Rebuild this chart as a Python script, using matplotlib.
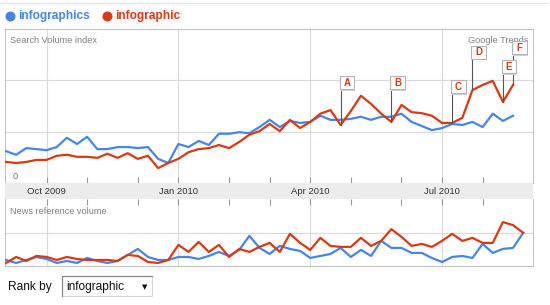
"""
Google Trends style comparison of "infographics" vs "infographic",
weekly from Sep 2009 to Aug 2010.

Top panel: search volume index with news markers A-F on the red line.
Bottom panel: news reference volume.  Writes out.png (550x305).
"""

from __future__ import annotations

from datetime import date

import numpy as np
import matplotlib
matplotlib.use("Agg")
import matplotlib.pyplot as plt
import matplotlib.transforms as mtransforms
from matplotlib.lines import Line2D
from matplotlib.patches import Rectangle

plt.rcParams["font.family"] = ["Liberation Sans", "DejaVu Sans"]

# first weekly bucket
FIRST_WEEK = date(2009, 9, 3)

terms = ["infographics", "infographic"]

# search volume index (gridlines sit at 1 and 2)
search_infographics = [
    0.62, 0.55, 0.68, 0.66, 0.64, 0.70, 0.88, 0.76, 0.90, 0.66,
    0.66, 0.70, 0.70, 0.68, 0.70, 0.47, 0.39, 0.76, 0.70, 0.82,
    0.74, 0.96, 0.96, 0.99, 0.97, 1.09, 1.23, 1.09, 1.21, 1.17,
    1.19, 1.31, 1.23, 1.23, 1.25, 1.29, 1.23, 1.29, 1.29, 1.35,
    1.19, 1.11, 1.03, 1.07, 1.15, 1.13, 1.19, 1.09, 1.35, 1.21,
    1.31,
]
search_infographic = [
    0.41, 0.39, 0.41, 0.45, 0.45, 0.53, 0.55, 0.51, 0.51, 0.49,
    0.57, 0.49, 0.58, 0.47, 0.53, 0.29, 0.39, 0.47, 0.60, 0.66,
    0.68, 0.74, 0.68, 0.80, 0.94, 1.01, 1.15, 1.01, 1.23, 1.07,
    1.19, 1.35, 1.42, 1.13, 1.40, 1.70, 1.54, 1.35, 1.19, 1.52,
    1.38, 1.36, 1.31, 1.17, 1.17, 1.27, 1.81, 1.91, 1.99, 1.58,
    1.91,
]

# news reference volume (gridline at 1)
news_infographics = [
    0.18, 0.09, 0.18, 0.27, 0.21, 0.09, 0.15, 0.09, 0.24, 0.15,
    0.09, 0.15, 0.33, 0.51, 0.27, 0.18, 0.18, 0.27, 0.27, 0.21,
    0.30, 0.42, 0.30, 0.48, 0.90, 0.54, 0.36, 0.60, 0.51, 0.45,
    0.24, 0.30, 0.36, 0.54, 0.27, 0.48, 0.30, 0.75, 0.54, 0.54,
    0.39, 0.39, 0.24, 0.12, 0.27, 0.30, 0.24, 0.66, 0.39, 0.51,
    0.54, 0.99,
]
news_infographic = [
    0.09, 0.27, 0.15, 0.30, 0.27, 0.18, 0.27, 0.21, 0.18, 0.18,
    0.18, 0.15, 0.33, 0.30, 0.12, 0.09, 0.18, 0.63, 0.42, 0.72,
    0.42, 0.63, 0.27, 0.51, 0.42, 0.57, 0.69, 0.42, 0.96, 0.69,
    0.48, 0.84, 0.60, 0.57, 0.57, 0.84, 0.60, 0.75, 1.10, 0.87,
    0.60, 0.66, 0.57, 0.75, 0.96, 0.75, 0.84, 0.69, 0.69, 1.31,
    1.22, 0.99,
]

# news headline markers on the "infographic" line
marker_letters = ["A", "B", "C", "D", "E", "F"]
marker_weeks = [33, 38, 44, 46, 49, 50]

month_starts = [
    date(2009, 10, 1), date(2009, 11, 1), date(2009, 12, 1),
    date(2010, 1, 1), date(2010, 2, 1), date(2010, 3, 1),
    date(2010, 4, 1), date(2010, 5, 1), date(2010, 6, 1),
    date(2010, 7, 1), date(2010, 8, 1),
]
quarter_labels = ["Oct 2009", "Jan 2010", "Apr 2010", "Jul 2010"]

BLUE = "#4684ee"
RED = "#dc3912"
GRID = "#dadada"
BORDER = "#c4c4c4"

W, H = 550, 305


def fx(px: float) -> float:
    return px / W


def fy(py: float) -> float:
    return 1 - py / H


def week_of(d: date) -> int:
    return int(round((d - FIRST_WEEK).days / 7))


def style_panel(ax, ymax: float, ygrid, tick_months) -> None:
    ax.set_xlim(-0.1, 51.97)
    ax.set_ylim(0, ymax)
    for y in ygrid:
        ax.axhline(y, color=GRID, lw=0.8, zorder=1)
    for q in month_starts[::3]:
        ax.axvline(week_of(q), color=GRID, lw=0.8, zorder=1)
    ax.set_yticks([])
    ax.set_xticks(tick_months)
    for s in ax.spines.values():
        s.set_color(BORDER)
        s.set_linewidth(0.8)


def main() -> None:
    fig = plt.figure(figsize=(W / 100, H / 100), dpi=100)
    tick_months = [week_of(d) for d in month_starts]

    # thin rule across the top
    fig.add_artist(Line2D([0, fx(547)], [fy(2.5), fy(2.5)], color="#e2e2e2",
                          lw=0.8, transform=fig.transFigure))

    # legend row
    for term, col, x0 in zip(terms, [BLUE, RED], [10, 107]):
        fig.add_artist(Line2D([fx(x0)], [fy(16)], marker="o", ms=6.2, color=col,
                              transform=fig.transFigure))
        fig.text(fx(x0 + 8), fy(16), term, color=col, fontsize=8.6,
                 fontweight="bold", va="center", ha="left")

    # search volume panel
    ax_top = fig.add_axes([fx(5), fy(183), 528 / W, 154 / H])
    style_panel(ax_top, 3.0, [1, 2], tick_months)
    ax_top.tick_params(axis="x", direction="in", length=4, color="#999999",
                       labelbottom=False)
    weeks = np.arange(len(search_infographic))
    ax_top.plot(weeks, search_infographics, color=BLUE, lw=1.6, zorder=3)
    ax_top.plot(weeks, search_infographic, color=RED, lw=1.6, zorder=3)
    ax_top.text(0.0095, 0.928, "Search Volume index", transform=ax_top.transAxes,
                fontsize=6.6, color="#808080", va="center")
    ax_top.text(0.991, 0.928, "Google Trends", transform=ax_top.transAxes,
                fontsize=6.6, color="#808080", va="center", ha="right", zorder=2)
    ax_top.text(0.015, 0.04, "0", transform=ax_top.transAxes,
                fontsize=6.6, color="#707070", va="center")

    # news markers: stalk from the point up to a little shadowed box
    box_tops = [1.83, 1.83, 1.75, 2.42, 2.14, 2.51]
    for letter, wk, yb in zip(marker_letters, marker_weeks, box_tops):
        y0 = search_infographic[wk]
        ax_top.plot([wk, wk], [y0, yb], color="#555555", lw=0.8, zorder=4)
        trans = fig.dpi_scale_trans + mtransforms.ScaledTranslation(
            wk, yb, ax_top.transData)
        ax_top.add_patch(Rectangle((0.0, -0.015), 0.145, 0.13, transform=trans,
                                   fc="#d0d0d0", ec="none", zorder=5))
        ax_top.add_patch(Rectangle((-0.01, 0.0), 0.145, 0.13, transform=trans,
                                   fc="white", ec="#b4b4b4", lw=0.8, zorder=6))
        ax_top.text(0.062, 0.064, letter, transform=trans, color=RED,
                    fontsize=7, fontweight="bold", ha="center", va="center",
                    zorder=7)

    # date band
    ax_band = fig.add_axes([fx(5), fy(199), 528 / W, 16 / H])
    ax_band.set_xlim(-0.1, 51.97)
    ax_band.set_ylim(0, 1)
    ax_band.set_facecolor("#ececec")
    ax_band.set_xticks([])
    ax_band.set_yticks([])
    for s in ax_band.spines.values():
        s.set_visible(False)
    for d, lab in zip(month_starts[::3], quarter_labels):
        ax_band.text(week_of(d), 0.5, lab, ha="center", va="center",
                     fontsize=6.8, color="#333333")

    # news reference panel
    ax_bot = fig.add_axes([fx(5), fy(266), 528 / W, 67 / H])
    style_panel(ax_bot, 2.0, [1], tick_months)
    ax_bot.spines["top"].set_visible(False)
    ax_bot.xaxis.set_ticks_position("top")
    ax_bot.tick_params(axis="x", direction="in", length=4, color="#999999",
                       labeltop=False, labelbottom=False)
    news_weeks = np.arange(len(news_infographic))
    ax_bot.plot(news_weeks, news_infographics, color=BLUE, lw=1.6, zorder=3)
    ax_bot.plot(news_weeks, news_infographic, color=RED, lw=1.6, zorder=3)
    ax_bot.text(0.0095, 0.806, "News reference volume", transform=ax_bot.transAxes,
                fontsize=6.6, color="#808080", va="center")

    # "Rank by" dropdown
    fig.text(fx(8), fy(287), "Rank by", fontsize=8.6, color="#111111", va="center")
    fig.add_artist(Rectangle((fx(62), fy(296)), 90 / W, 20 / H,
                             transform=fig.transFigure, fc="white", ec="#d4d4d4",
                             lw=0.8))
    fig.add_artist(Line2D([fx(62), fx(62), fx(152)], [fy(296), fy(276), fy(276)],
                          color="#8a8a8a", lw=0.9, transform=fig.transFigure))
    fig.text(fx(66), fy(287), "infographic", fontsize=8.6, color="#111111",
             va="center")
    fig.text(fx(145), fy(287), "\u25bc", fontsize=5, color="#111111",
             va="center", ha="center", family=["DejaVu Sans"])

    fig.savefig("out.png", dpi=100)


if __name__ == "__main__":
    main()
